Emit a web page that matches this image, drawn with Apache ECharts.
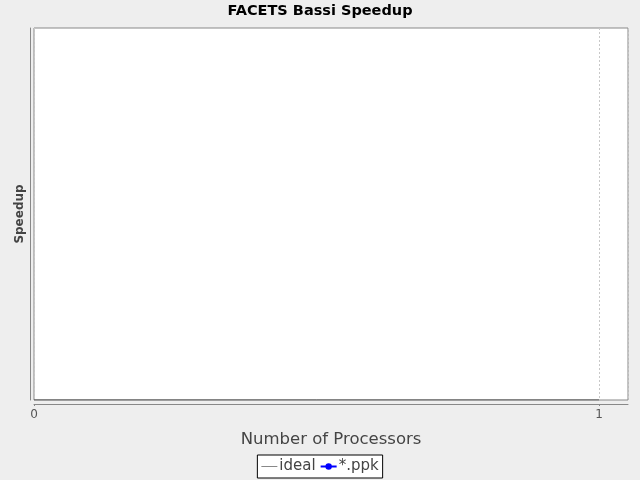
<!DOCTYPE html>
<html><head><meta charset="utf-8">
<script src="https://cdn.jsdelivr.net/npm/echarts@6/dist/echarts.min.js"></script>
<style>html,body{margin:0;padding:0;background:#eeeeee;}#c{width:640px;height:480px;}</style>
</head><body><div id="c"></div>
<script>
const processors = [0, 1];
const idealSpeedup = [0, 0];
const ppkProcessors = [];
const ppkSpeedup = [];
const xTicks = [0, 1];

const chart = echarts.init(document.getElementById('c'));
const F = 'DejaVu Sans';
chart.setOption({
  backgroundColor: '#eeeeee',
  animation: false,
  title: {text: 'FACETS Bassi Speedup', left: 'center', top: -1,
    textStyle: {fontFamily: F, fontSize: 14.5, fontWeight: 'bold', color: '#000'}},
  grid: {left: 34, right: 12, top: 28, bottom: 80, show: true,
    backgroundColor: '#ffffff', borderColor: '#888888', borderWidth: 1},
  xAxis: {type: 'value', min: 0, max: 1.0513, interval: 1,
    name: 'Number of Processors', nameLocation: 'middle', nameGap: 27,
    nameTextStyle: {fontFamily: F, fontSize: 16.5, color: '#444'},
    offset: 4,
    axisLine: {show: true, onZero: false, lineStyle: {color: '#888'}},
    axisTick: {show: true, length: 2, lineStyle: {color: '#888'}},
    axisLabel: {fontFamily: F, fontSize: 12, color: '#555', margin: 5,
      showMaxLabel: false,
      formatter: v => xTicks.includes(v) ? String(v) : ''},
    splitLine: {show: true, lineStyle: {color: '#c8c8c8', type: [2, 2]}}},
  yAxis: {type: 'value', min: 0, max: 1,
    name: 'Speedup', nameLocation: 'middle', nameGap: 4,
    nameTextStyle: {fontFamily: F, fontSize: 12, fontWeight: 'bold', color: '#444'},
    offset: 4,
    axisLine: {show: true, onZero: false, lineStyle: {color: '#888'}},
    axisTick: {show: false}, axisLabel: {show: false},
    splitLine: {show: false}},
  legend: {bottom: 2, left: 'center', orient: 'horizontal',
    backgroundColor: '#fff', borderColor: '#000', borderWidth: 1,
    padding: [4, 4], itemGap: 4, itemWidth: 16, itemHeight: 8,
    textStyle: {fontFamily: F, fontSize: 15, color: '#444', padding: [0, 0, 0, -3]},
    data: [{name: 'ideal', icon: 'path://M0,0 L16,0 L16,1 L0,1 Z'}, {name: '*.ppk'}]},
  series: [
    {name: 'ideal', type: 'line', symbol: 'none',
      lineStyle: {color: '#444', width: 1}, itemStyle: {color: '#888'},
      data: processors.map((p, i) => [p, idealSpeedup[i]])},
    {name: '*.ppk', type: 'line', symbol: 'circle', symbolSize: 7,
      lineStyle: {color: '#0000ff', width: 1}, itemStyle: {color: '#0000ff'},
      data: ppkProcessors.map((p, i) => [p, ppkSpeedup[i]])}
  ]
});
</script></body></html>
